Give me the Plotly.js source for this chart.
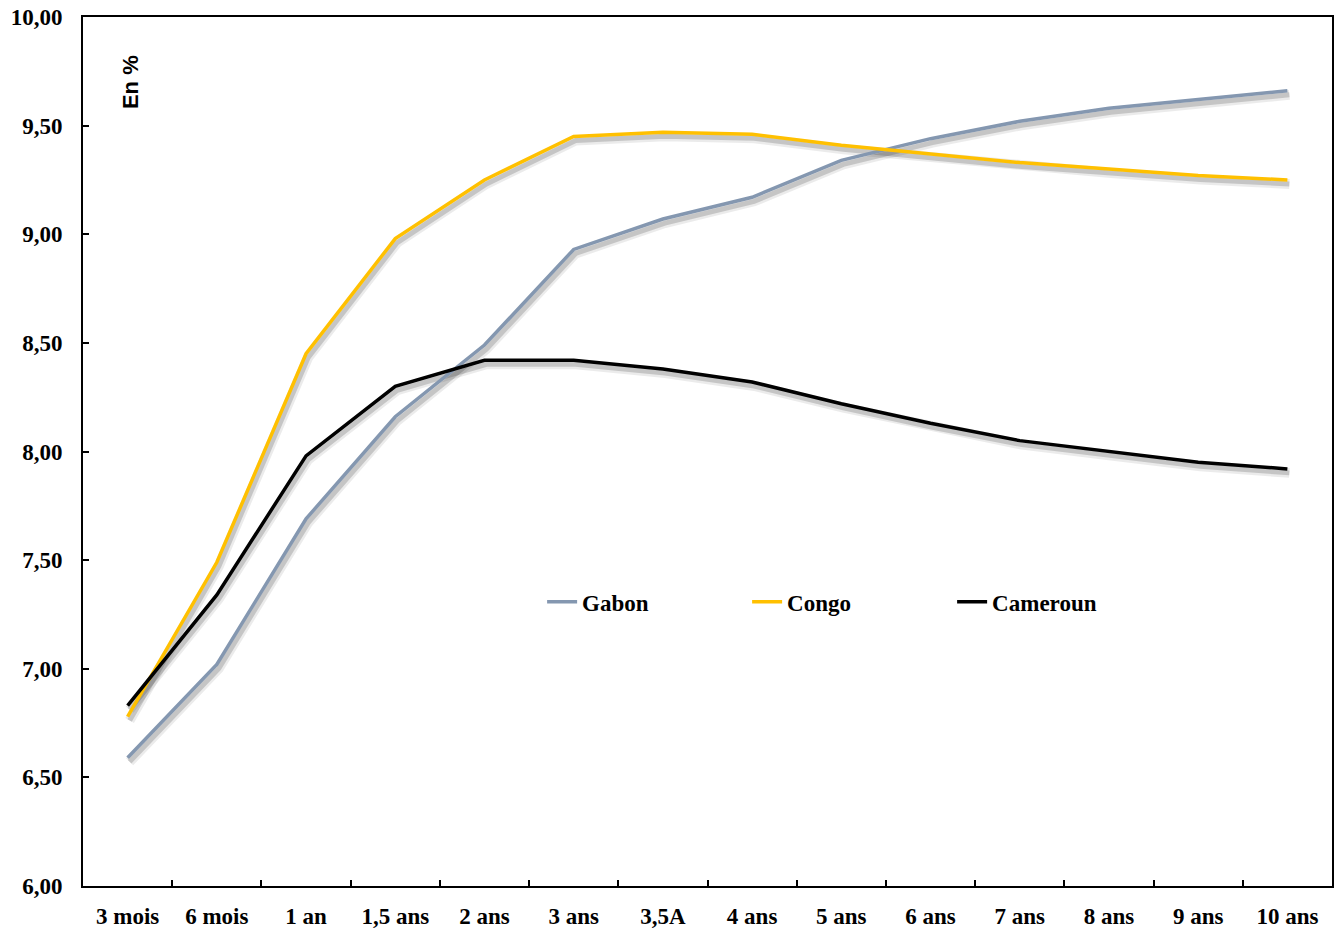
<!DOCTYPE html>
<html>
<head>
<meta charset="utf-8">
<script src="https://cdn.plot.ly/plotly-3.0.1.min.js"></script>
<style>html,body{margin:0;padding:0;background:#fff;}#chart{width:1336px;height:931px;}</style>
</head>
<body>
<div id="chart"></div>
<script>
const categories = ["3 mois","6 mois","1 an","1,5 ans","2 ans","3 ans","3,5A","4 ans","5 ans","6 ans","7 ans","8 ans","9 ans","10 ans"];
const gabon    = [6.59, 7.02, 7.69, 8.16, 8.49, 8.93, 9.07, 9.17, 9.34, 9.44, 9.52, 9.58, 9.62, 9.66];
const congo    = [6.78, 7.49, 8.45, 8.98, 9.25, 9.45, 9.47, 9.46, 9.41, 9.37, 9.33, 9.30, 9.27, 9.25];
const cameroun = [6.83, 7.34, 7.98, 8.30, 8.42, 8.42, 8.38, 8.32, 8.22, 8.13, 8.05, 8.00, 7.95, 7.92];
const seriesNames = ["Gabon","Congo","Cameroun"];
const seriesColors = ["#8497B0","#FFC000","#000000"];
const yTicks = [6.0, 6.5, 7.0, 7.5, 8.0, 8.5, 9.0, 9.5, 10.0];

const allSeries = [gabon, congo, cameroun];
const W = 1251, H = 873, DX = 2, DY = 4;
const traces = [];
// shadows on the first (hidden) subplot, drawn below
allSeries.forEach((s) => {
  traces.push({x: categories, y: s, type: "scatter", mode: "lines", xaxis: "x", yaxis: "y",
    line: {color: "rgba(0,0,0,0.08)", width: 10}, showlegend: false, hoverinfo: "skip"});
  traces.push({x: categories, y: s, type: "scatter", mode: "lines", xaxis: "x", yaxis: "y",
    line: {color: "rgba(0,0,0,0.16)", width: 5}, showlegend: false, hoverinfo: "skip"});
});
// main lines on the visible subplot
allSeries.forEach((s, i) => {
  traces.push({x: categories, y: s, type: "scatter", mode: "lines", name: seriesNames[i],
    xaxis: "x2", yaxis: "y2", line: {color: seriesColors[i], width: 3.5}});
});

const tickFont = {family: "Liberation Serif, Times New Roman, serif", size: 23, color: "#000", weight: "bold"};
const layout = {
  width: 1336, height: 931,
  margin: {l: 83, r: 2, t: 17, b: 41},
  paper_bgcolor: "#fff", plot_bgcolor: "rgba(0,0,0,0)",
  separators: ", ",
  showlegend: true,
  xaxis: {type: "category", range: [-0.5, 13.5], domain: [DX / W, 1], anchor: "y", visible: false, fixedrange: true},
  yaxis: {range: [6, 10], domain: [0, (H - DY) / H], anchor: "x", visible: false, fixedrange: true},
  xaxis2: {
    type: "category", range: [-0.5, 13.5], domain: [0, (W - DX) / W], anchor: "y2",
    showline: true, linecolor: "#000", linewidth: 2, mirror: true,
    ticks: "inside", ticklen: 6, tickwidth: 2, tickcolor: "#000", tickson: "boundaries",
    showgrid: false, zeroline: false, tickfont: tickFont, ticklabelstandoff: 8
  },
  yaxis2: {
    range: [6, 10], domain: [DY / H, 1], anchor: "x2", tickvals: yTicks, tickformat: ".2f",
    showline: true, linecolor: "#000", linewidth: 2, mirror: true,
    ticks: "inside", ticklen: 6, tickwidth: 2, tickcolor: "#000",
    showgrid: false, zeroline: false, tickfont: tickFont, ticklabelstandoff: 14
  },
  legend: {
    orientation: "h", x: 0.367, y: 0.33, xanchor: "left", yanchor: "middle",
    font: {family: "Liberation Serif, Times New Roman, serif", size: 23, color: "#000", weight: "bold"},
    entrywidth: 160, entrywidthmode: "pixels", bgcolor: "rgba(0,0,0,0)", tracegroupgap: 0
  },
  annotations: [{
    text: "En %", xref: "paper", yref: "paper", x: 0.0376, y: 0.9255, showarrow: false,
    textangle: -90, xanchor: "center", yanchor: "middle",
    font: {family: "Liberation Sans, Arial, sans-serif", size: 22, color: "#000", weight: "bold"}
  }]
};
Plotly.newPlot("chart", traces, layout, {displayModeBar: false, staticPlot: true});
</script>
</body>
</html>
